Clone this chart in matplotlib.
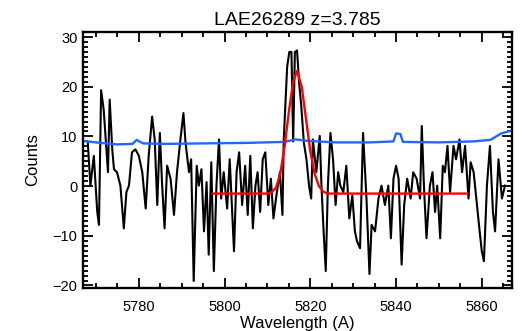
import numpy as np
import matplotlib
matplotlib.use("Agg")
import matplotlib.pyplot as plt
from matplotlib.ticker import MultipleLocator

wave = [5768.1, 5768.7, 5769.5, 5770.3, 5770.7, 5771.2, 5771.8, 5772.5, 5772.8, 5773.2,
        5773.8, 5774.2, 5774.9, 5775.7, 5776.5, 5777.1, 5777.7, 5778.4, 5779.2, 5780.0,
        5780.8, 5781.6, 5782.3, 5783.1, 5783.7, 5784.3, 5784.9, 5785.4, 5786.0, 5786.6,
        5787.4, 5788.2, 5788.9, 5789.7, 5790.4, 5790.9, 5791.7, 5792.2, 5792.8, 5793.5,
        5794.0, 5794.6, 5795.2, 5795.8, 5796.3, 5796.9, 5797.5, 5798.1, 5798.7, 5799.2,
        5799.8, 5800.6, 5801.2, 5802.2, 5802.8, 5803.4, 5804.1, 5804.8, 5805.4, 5806.0,
        5806.6, 5807.2, 5807.7, 5808.3, 5808.9, 5809.5, 5810.2, 5810.8, 5811.4, 5812.2,
        5812.9, 5813.5, 5813.8, 5814.6, 5815.1, 5815.6, 5816.0, 5816.4, 5816.9, 5817.4,
        5817.9, 5818.5, 5819.1, 5819.7, 5820.2, 5820.6, 5821.4, 5822.2, 5822.6, 5823.1,
        5823.6, 5824.1, 5824.7, 5825.3, 5825.9, 5826.5, 5827.0, 5827.7, 5828.4, 5829.1,
        5829.8, 5830.4, 5830.9, 5831.6, 5832.3, 5833.1, 5833.8, 5834.3, 5835.1, 5835.9,
        5836.6, 5837.4, 5838.2, 5838.8, 5839.4, 5840.0, 5840.6, 5841.3, 5841.9, 5842.6,
        5843.4, 5844.0, 5844.8, 5845.6, 5846.0, 5846.5, 5847.1, 5847.9, 5848.5, 5849.1,
        5849.6, 5850.3, 5850.9, 5851.4, 5852.0, 5852.6, 5853.4, 5854.0, 5854.8, 5855.4,
        5856.1, 5856.9, 5857.4, 5858.1, 5858.8, 5859.5, 5860.0, 5860.5, 5861.2, 5861.9,
        5862.6, 5863.1, 5863.9, 5864.7, 5865.4]
counts = [8.7, 0.1, 6.1, -5.2, -7.8, 19.3, 15.4, 6.8, 2.8, 17.4,
          7.4, 3.4, 2.8, 0.1, -8.5, -1.2, 0.1, 6.8, 7.4, 6.1,
          2.8, -4.5, 6.1, 14.0, 9.4, -3.8, 10.7, 0.8, -8.5, 4.1,
          1.5, -5.8, 2.8, 9.4, 14.7, 8.7, 2.8, 5.4, -19.1, 4.1,
          0.1, 3.4, -9.1, 0.8, -13.8, 4.8, -17.1, 0.1, 9.4, -2.5,
          2.8, -4.5, 5.4, -13.1, 2.8, 6.8, -3.8, 4.1, -5.8, 6.1,
          -8.5, 0.1, 2.8, -5.2, 5.4, 6.8, -3.8, 1.5, -6.5, -1.2,
          2.8, -5.8, 9.4, 24.0, 27.0, 27.0, 9.0, 27.0, 27.3, 20.7,
          16.0, 8.7, 5.4, 0.1, -2.5, 9.4, 2.8, 10.1, 0.1, -9.1,
          -17.1, 0.1, 10.7, 5.4, -3.8, 2.8, 0.1, -1.2, 4.1, -6.5,
          -1.9, -9.1, -11.1, -12.5, 10.7, -2.5, -17.7, -7.8, -9.1, -2.5,
          0.1, -3.8, 0.1, -10.5, 1.5, 4.1, 1.5, -15.8, -3.8, 1.5,
          -2.5, 2.8, 1.5, -2.5, 12.1, 0.1, -10.5, 0.1, 2.8, -5.2,
          0.1, -10.5, 4.1, 2.8, 8.1, -1.2, 8.1, 5.4, 9.4, 2.8,
          8.1, -2.5, 4.8, 2.8, -3.2, -9.1, -13.1, -15.1, 0.1, 8.1,
          -5.2, -9.1, 5.4, -2.5, 0.1]

# noise / sky level (blue)
sky_wave = [5767.0, 5771.0, 5775.0, 5778.5, 5779.5, 5781.0, 5786.0, 5795.0, 5805.0, 5814.0,
            5816.5, 5819.5, 5826.0, 5834.0, 5839.4, 5840.0, 5841.0, 5841.6, 5850.0, 5858.0,
            5862.0, 5864.5, 5867.0]
sky = [9.1, 8.7, 8.4, 8.5, 9.3, 8.6, 8.5, 8.6, 8.7, 8.9,
       9.4, 9.1, 8.8, 8.8, 9.0, 10.6, 10.5, 8.9, 8.8, 9.0,
       9.3, 10.6, 11.2]

# gaussian line fit (red)
fit_wave = [5797.2, 5810.0, 5811.0, 5812.0, 5813.0, 5814.0, 5815.0, 5816.0, 5816.9, 5818.0,
            5819.0, 5820.0, 5821.0, 5822.0, 5823.0, 5824.0, 5856.6]
fit = [-1.5, -1.5, -1.2, -0.3, 2.5, 8.0, 15.0, 21.0, 23.2, 20.0,
       13.5, 7.0, 2.5, 0.0, -1.1, -1.5, -1.5]

plt.rcParams['font.family'] = ['Liberation Sans', 'DejaVu Sans']

fig = plt.figure(figsize=(5.26, 3.31), dpi=100)
ax = fig.add_axes([0.158, 0.130, 0.815, 0.773])

ax.plot(wave, counts, color='black', lw=1.5)
ax.plot(sky_wave, sky, color='#2266ff', lw=1.7)
ax.plot(fit_wave, fit, color='red', lw=1.7)

ax.set_xlim(5767, 5867)
ax.set_ylim(-20.5, 31)
ax.xaxis.set_major_locator(MultipleLocator(20))
ax.xaxis.set_minor_locator(MultipleLocator(5))
ax.yaxis.set_major_locator(MultipleLocator(10))
ax.yaxis.set_minor_locator(MultipleLocator(1))
ax.tick_params(which='both', direction='in', top=True, right=True, width=1.3, labelsize=10.5)
ax.tick_params(which='major', length=7)
ax.tick_params(which='minor', length=3.5)
ax.tick_params(axis='x', pad=9)
ax.tick_params(axis='y', pad=4)
for s in ax.spines.values():
    s.set_linewidth(1.7)

ax.set_title('LAE26289 z=3.785', fontsize=14, pad=5)
ax.set_xlabel('Wavelength (A)', fontsize=12, labelpad=1)
ax.set_ylabel('Counts', fontsize=12, labelpad=9)

fig.savefig('out.png', dpi=100)
